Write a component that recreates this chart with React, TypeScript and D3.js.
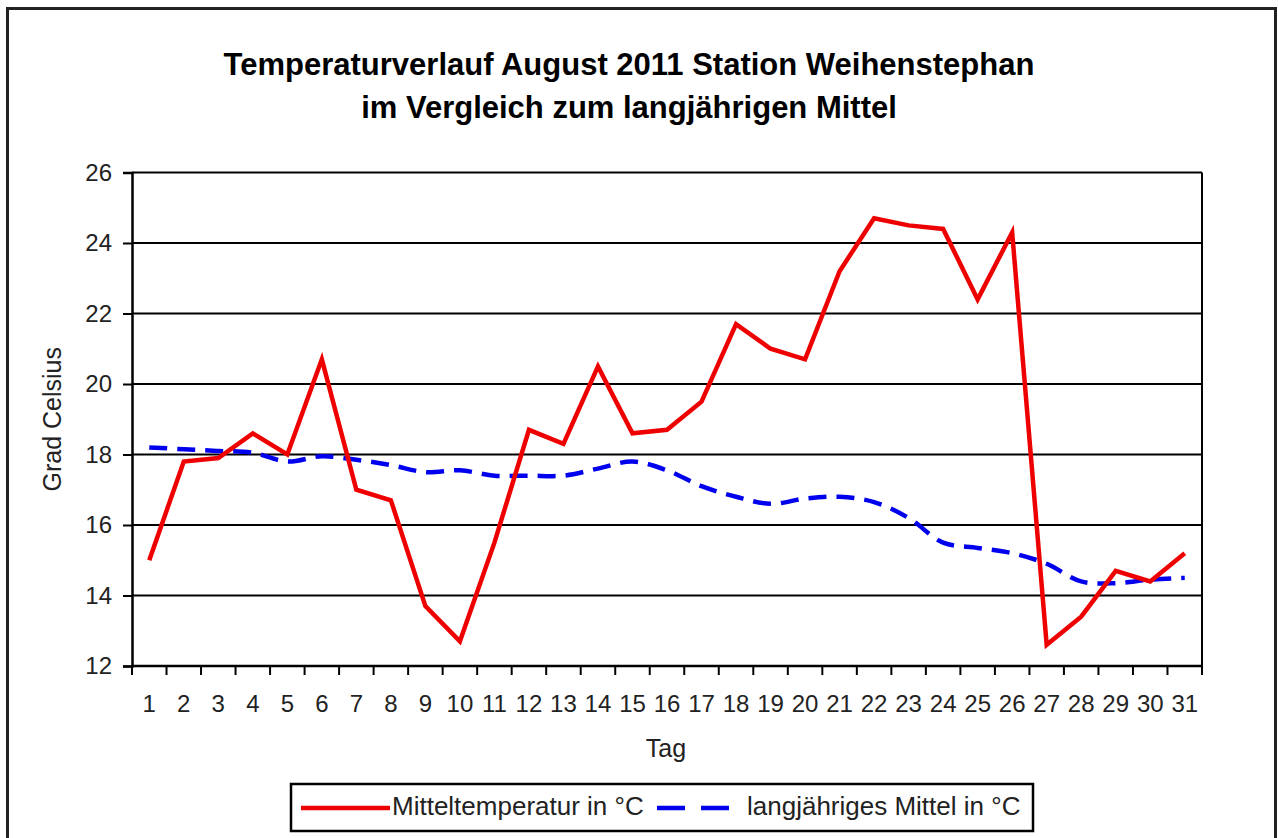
import { useEffect, useRef } from 'react';
import * as d3 from 'd3';

// Tage im August 2011
const days = d3.range(1, 32).map(String);

// Tagesmittel der Temperatur (°C), Station Weihenstephan
const mittelTemp = [
  15.0, 17.8, 17.9, 18.6, 18.0, 20.7, 17.0, 16.7, 13.7, 12.7,
  15.5, 18.7, 18.3, 20.5, 18.6, 18.7, 19.5, 21.7, 21.0, 20.7,
  23.2, 24.7, 24.5, 24.4, 22.4, 24.3, 12.6, 13.4, 14.7, 14.4, 15.2
];

// langjähriges Mittel (°C)
const langMittel = [
  18.2, 18.15, 18.1, 18.05, 17.8, 17.95, 17.85, 17.7, 17.5, 17.55,
  17.4, 17.4, 17.4, 17.6, 17.8, 17.55, 17.1, 16.8, 16.6, 16.75,
  16.8, 16.65, 16.2, 15.5, 15.35, 15.2, 14.9, 14.4, 14.35, 14.45, 14.5
];

const yTicks = [12, 14, 16, 18, 20, 22, 24, 26];

const titleLines = [
  'Temperaturverlauf August 2011 Station Weihenstephan',
  'im Vergleich zum langjährigen Mittel'
];

const W = 1278;
const H = 838;
const FONT = 'Liberation Sans, Arial, sans-serif';

const App = () => {
  const ref = useRef<SVGSVGElement>(null);

  useEffect(() => {
    const svg = d3.select(ref.current);
    svg.selectAll('*').remove();

    const left = 132, right = 1202, top = 172.5, bottom = 666;

    const x = d3.scaleBand().domain(days).range([left, right]);
    const y = d3.scaleLinear().domain([12, 26]).range([bottom, top]);
    const cx = (i: number) => (x(days[i]) as number) + x.bandwidth() / 2;

    // Rahmen
    svg.append('rect')
      .attr('x', 0).attr('y', 0).attr('width', W).attr('height', H)
      .attr('fill', '#fff');
    svg.append('rect')
      .attr('x', 7.5).attr('y', 8.5).attr('width', 1268).attr('height', 840)
      .attr('fill', 'none').attr('stroke', '#222').attr('stroke-width', 3);

    // Titel
    svg.append('g').selectAll('text').data(titleLines).join('text')
      .attr('x', 629).attr('y', (d, i) => 75 + i * 43)
      .attr('text-anchor', 'middle')
      .attr('font-family', FONT).attr('font-weight', 'bold').attr('font-size', 31)
      .text(d => d);

    // Gitterlinien
    svg.append('g').selectAll('line').data(yTicks).join('line')
      .attr('x1', left).attr('x2', right)
      .attr('y1', d => y(d)).attr('y2', d => y(d))
      .attr('stroke', '#000').attr('stroke-width', 2);

    // Rahmen rechts
    svg.append('line')
      .attr('x1', right).attr('x2', right).attr('y1', top).attr('y2', bottom)
      .attr('stroke', '#000').attr('stroke-width', 2);

    // y-Achse
    const yAxis = svg.append('g')
      .attr('transform', `translate(${left},0)`)
      .call(d3.axisLeft(y).tickValues(yTicks).tickSize(9).tickPadding(11).tickFormat(d3.format('d')));
    yAxis.select('.domain').attr('stroke-width', 2.5);
    yAxis.selectAll('.tick line').attr('stroke-width', 2);
    yAxis.selectAll('text').attr('font-family', FONT).attr('font-size', 24).attr('fill', '#222');

    // x-Achse
    const xAxis = svg.append('g')
      .attr('transform', `translate(0,${bottom})`)
      .call(d3.axisBottom(x).tickSize(0).tickPadding(29));
    xAxis.select('.domain').attr('stroke-width', 2.5).attr('d', `M${left},0H${right}`);
    xAxis.selectAll('text').attr('font-family', FONT).attr('font-size', 24).attr('fill', '#222');
    svg.append('g').selectAll('line').data(days.concat(['end'])).join('line')
      .attr('x1', (d, i) => left + i * x.step()).attr('x2', (d, i) => left + i * x.step())
      .attr('y1', bottom).attr('y2', bottom + 9)
      .attr('stroke', '#000').attr('stroke-width', 2);

    // Achsentitel
    svg.append('text')
      .attr('transform', `translate(61,${(top + bottom) / 2}) rotate(-90)`)
      .attr('text-anchor', 'middle')
      .attr('font-family', FONT).attr('font-size', 25).attr('fill', '#222')
      .text('Grad Celsius');
    svg.append('text')
      .attr('x', 666).attr('y', 757)
      .attr('text-anchor', 'middle')
      .attr('font-family', FONT).attr('font-size', 25).attr('fill', '#222')
      .text('Tag');

    // Linien
    const blueLine = d3.line<number>()
      .x((d, i) => cx(i)).y(d => y(d))
      .curve(d3.curveCatmullRom.alpha(0.5));
    svg.append('path')
      .datum(langMittel)
      .attr('fill', 'none').attr('stroke', '#0000ee').attr('stroke-width', 4.5)
      .attr('stroke-dasharray', '18 10')
      .attr('d', blueLine);

    const redLine = d3.line<number>().x((d, i) => cx(i)).y(d => y(d));
    svg.append('path')
      .datum(mittelTemp)
      .attr('fill', 'none').attr('stroke', '#ee0000').attr('stroke-width', 4.5)
      .attr('stroke-linejoin', 'miter')
      .attr('d', redLine);

    // Legende
    const lg = svg.append('g');
    lg.append('rect')
      .attr('x', 291).attr('y', 784).attr('width', 742).attr('height', 47)
      .attr('fill', '#fff').attr('stroke', '#000').attr('stroke-width', 2.5);
    lg.append('line')
      .attr('x1', 301).attr('x2', 390).attr('y1', 808).attr('y2', 808)
      .attr('stroke', '#ee0000').attr('stroke-width', 4.5);
    lg.append('text')
      .attr('x', 392).attr('y', 815)
      .attr('font-family', FONT).attr('font-size', 26).attr('fill', '#222')
      .text('Mitteltemperatur in °C');
    lg.append('line')
      .attr('x1', 657).attr('x2', 730).attr('y1', 808).attr('y2', 808)
      .attr('stroke', '#0000ee').attr('stroke-width', 4.5)
      .attr('stroke-dasharray', '28 16');
    lg.append('text')
      .attr('x', 747).attr('y', 815)
      .attr('font-family', FONT).attr('font-size', 26).attr('fill', '#222')
      .text('langjähriges Mittel in °C');
  }, []);

  return (
    <svg
      ref={ref}
      width={W}
      height={H}
      style={{ position: 'absolute', left: 0, top: 0, display: 'block' }}
    />
  );
};

export default App;
